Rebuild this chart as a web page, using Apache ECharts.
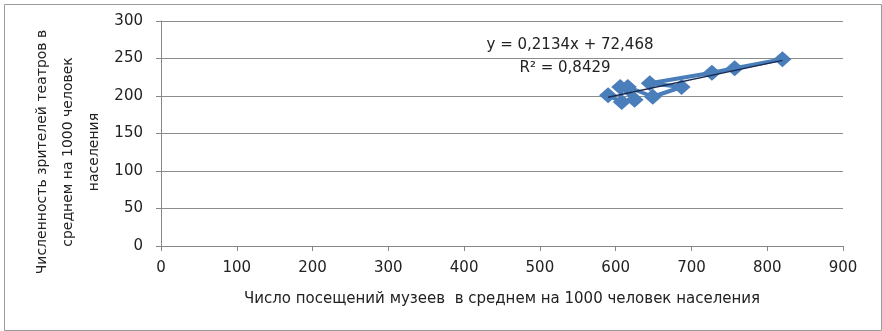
<!DOCTYPE html>
<html><head><meta charset="utf-8">
<script src="https://cdn.jsdelivr.net/npm/echarts@6/dist/echarts.min.js"></script>
<style>html,body{margin:0;padding:0;background:#fff}#c{width:882px;height:331px}</style>
</head><body><div id="c"></div>
<script>
const museumVisits = [590, 608, 606, 625, 616, 649, 687, 645, 727, 757, 820];
const theatreViewers = [201, 192, 212, 195, 212, 199, 212, 217, 231, 237, 249];
const trendX = [590, 820];
const trendY = [198.4, 247.5];
const xTicks = [0, 100, 200, 300, 400, 500, 600, 700, 800, 900];
const yTicks = [0, 50, 100, 150, 200, 250, 300];
const xTitle = 'Число посещений музеев  в среднем на 1000 человек населения';
const yTitle = 'Численность зрителей театров в\nсреднем на 1000 человек\nнаселения';
const eqText = 'y = 0,2134x + 72,468';
const r2Text = 'R² = 0,8429';

const font = 'DejaVu Sans';
const chart = echarts.init(document.getElementById('c'));
chart.setOption({
  animation: false,
  backgroundColor: '#fff',
  grid: { left: 161, right: 39, top: 21, bottom: 85, containLabel: false, outerBoundsMode: 'none' },
  xAxis: {
    type: 'value', min: xTicks[0], max: xTicks[xTicks.length - 1], interval: 100,
    name: xTitle, nameLocation: 'middle', nameGap: 46,
    nameTextStyle: { fontFamily: font, fontSize: 15, color: '#222' },
    axisLine: { lineStyle: { color: '#868686' } },
    axisTick: { show: true, length: 5, lineStyle: { color: '#868686' } },
    axisLabel: { fontFamily: font, fontSize: 15, color: '#222', margin: 15 },
    splitLine: { show: false }
  },
  yAxis: {
    type: 'value', min: yTicks[0], max: yTicks[yTicks.length - 1], interval: 50,
    axisLine: { show: true, lineStyle: { color: '#868686' } },
    axisTick: { show: true, length: 5, lineStyle: { color: '#868686' } },
    axisLabel: { fontFamily: font, fontSize: 15, color: '#222', margin: 18 },
    splitLine: { show: true, lineStyle: { color: '#8c8c8c' } }
  },
  series: [
    {
      type: 'line',
      data: museumVisits.map((x, i) => [x, theatreViewers[i]]),
      symbol: 'diamond', symbolSize: [18, 16],
      itemStyle: { color: '#4a7ebb' },
      lineStyle: { color: '#4a7ebb', width: 4 },
      z: 2
    },
    {
      type: 'line',
      data: trendX.map((x, i) => [x, trendY[i]]),
      symbol: 'none',
      lineStyle: { color: '#1a2a50', width: 1.5 },
      z: 3
    }
  ],
  graphic: [
    { type: 'rect', left: 2, top: 2, shape: { width: 877, height: 326 },
      style: { fill: 'none', stroke: '#9a9a9a', lineWidth: 1 }, silent: true },
    { type: 'text', x: 68, y: 152, rotation: Math.PI / 2,
      style: { text: yTitle, font: '14px "DejaVu Sans"', fill: '#222', align: 'center', verticalAlign: 'middle', lineHeight: 26 } },
    { type: 'text', x: 570, y: 45, style: { text: eqText, font: '15px "DejaVu Sans"', fill: '#222', align: 'center', verticalAlign: 'middle' } },
    { type: 'text', x: 565, y: 68, style: { text: r2Text, font: '15px "DejaVu Sans"', fill: '#222', align: 'center', verticalAlign: 'middle' } }
  ]
});
</script></body></html>
